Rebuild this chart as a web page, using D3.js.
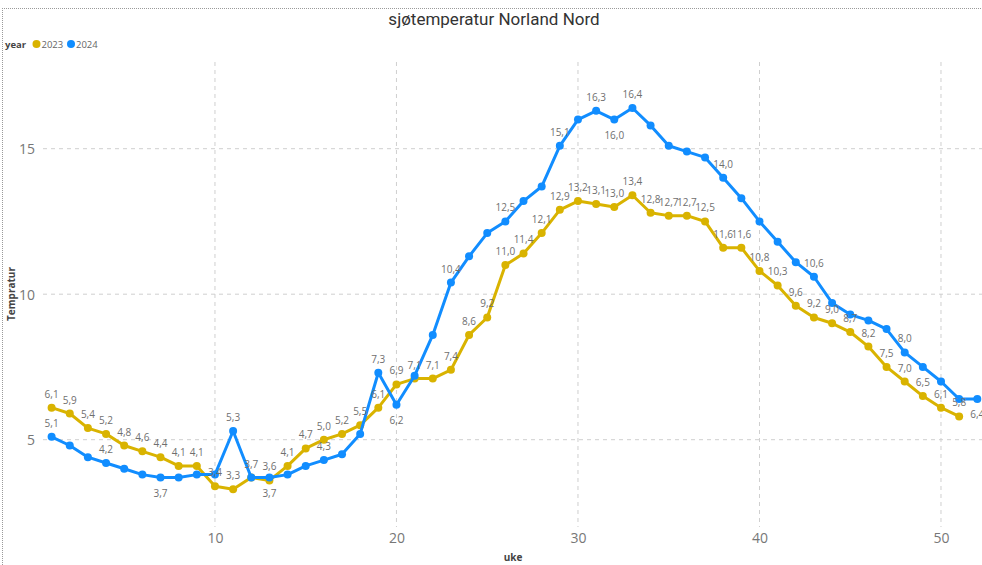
<!DOCTYPE html>
<html>
<head>
<meta charset="utf-8">
<script src="https://cdn.jsdelivr.net/npm/d3@7"></script>
<style>
  html, body { margin: 0; padding: 0; background: #fff; }
  svg { display: block; }
</style>
</head>
<body>
<svg id="chart" width="982" height="565"></svg>
<script>
// ---- data ----
const weeks = d3.range(1, 53);
const values2023 = [6.1, 5.9, 5.4, 5.2, 4.8, 4.6, 4.4, 4.1, 4.1, 3.4,
  3.3, 3.7, 3.6, 4.1, 4.7, 5.0, 5.2, 5.5, 6.1, 6.9,
  7.1, 7.1, 7.4, 8.6, 9.2, 11.0, 11.4, 12.1, 12.9, 13.2,
  13.1, 13.0, 13.4, 12.8, 12.7, 12.7, 12.5, 11.6, 11.6, 10.8,
  10.3, 9.6, 9.2, 9.0, 8.7, 8.2, 7.5, 7.0, 6.5, 6.1,
  5.8, null];
const values2024 = [5.1, 4.8, 4.4, 4.2, 4.0, 3.8, 3.7, 3.7, 3.8, 3.8,
  5.3, 3.7, 3.7, 3.8, 4.1, 4.3, 4.5, 5.2, 7.3, 6.2,
  7.2, 8.6, 10.4, 11.3, 12.1, 12.5, 13.2, 13.7, 15.1, 16.0,
  16.3, 16.0, 16.4, 15.8, 15.1, 14.9, 14.7, 14.0, 13.3, 12.5,
  11.8, 11.1, 10.6, 9.7, 9.3, 9.1, 8.8, 8.0, 7.5, 7.0,
  6.4, 6.4];
const seriesNames = ["2023", "2024"];
const seriesColors = ["#D9B300", "#118DFF"];
// weeks that carry a data label (2023: every week; 2024: a subset)
const labelWeeks2023 = d3.range(1, 52);
const labelWeeks2024 = [1, 4, 7, 11, 13, 16, 19, 20, 23, 26, 29, 31, 32, 33, 38, 43, 48, 52];
const labelBelow2024 = [7, 13, 20, 32, 52];
const xTicks = [10, 20, 30, 40, 50];
const yTicks = [5, 10, 15];
const titleText = "sjøtemperatur Norland Nord";
const xTitle = "uke";
const yTitle = "Tempratur";
const legendTitle = "year";

// ---- layout ----
const svg = d3.select("#chart");
const W = 982, H = 565;
const x = d3.scaleLinear().domain([1, 52]).range([51.6, 977.3]);
const y = d3.scaleLinear().domain([2, 18]).range([527, 61.4]);
const fmt = v => d3.format(".1f")(v).replace(".", ",");
const labelFont = "'Open Sans', 'Noto Sans', sans-serif";

// frame (dotted)
svg.append("line").attr("x1", 2).attr("x2", W).attr("y1", 8.5).attr("y2", 8.5)
  .attr("stroke", "#9a9a9a").attr("stroke-width", 1).attr("stroke-dasharray", "1,1");
svg.append("line").attr("x1", 2.5).attr("x2", 2.5).attr("y1", 8).attr("y2", H)
  .attr("stroke", "#9a9a9a").attr("stroke-width", 1).attr("stroke-dasharray", "1,1");

// title
svg.append("text").attr("x", 494).attr("y", 25).attr("text-anchor", "middle")
  .attr("font-family", "'Liberation Sans Narrow', 'Roboto', sans-serif")
  .attr("font-size", 17).attr("fill", "#333").text(titleText);

// legend
const lg = svg.append("g").attr("font-family", labelFont).attr("font-size", 9.5);
lg.append("text").attr("x", 5).attr("y", 47.5).attr("font-weight", "bold").attr("fill", "#444").text(legendTitle);
const legendX = [36.5, 71];
seriesNames.forEach((n, i) => {
  lg.append("circle").attr("cx", legendX[i]).attr("cy", 44).attr("r", 4).attr("fill", seriesColors[i]);
  lg.append("text").attr("x", legendX[i] + 5).attr("y", 47.5).attr("fill", "#666").text(n);
});

// gridlines
const grid = svg.append("g");
grid.selectAll("line.h").data(yTicks).join("line")
  .attr("x1", 43).attr("x2", W).attr("y1", d => y(d)).attr("y2", d => y(d))
  .attr("stroke", "#cfcfcf").attr("stroke-width", 1).attr("stroke-dasharray", "4,4");
grid.selectAll("line.v").data(xTicks).join("line")
  .attr("x1", d => x(d)).attr("x2", d => x(d)).attr("y1", 62).attr("y2", 527)
  .attr("stroke", "#cfcfcf").attr("stroke-width", 1).attr("stroke-dasharray", "4,4");

// axes (labels only)
const yAxis = svg.append("g").attr("transform", "translate(35,0)")
  .call(d3.axisLeft(y).tickValues(yTicks).tickSize(0).tickPadding(0).tickFormat(d3.format("d")));
yAxis.select(".domain").remove();
yAxis.selectAll("text").attr("font-family", labelFont).attr("font-size", 14).attr("fill", "#777").attr("dy", "0.35em");

const xAxis = svg.append("g").attr("transform", "translate(0,529)")
  .call(d3.axisBottom(x).tickValues(xTicks).tickSize(0).tickPadding(4).tickFormat(d3.format("d")));
xAxis.select(".domain").remove();
xAxis.selectAll("text").attr("font-family", labelFont).attr("font-size", 14).attr("fill", "#777");

svg.append("text").attr("x", 513).attr("y", 561).attr("text-anchor", "middle")
  .attr("font-family", labelFont).attr("font-size", 10).attr("font-weight", "bold").attr("fill", "#444").text(xTitle);
svg.append("text").attr("transform", "translate(15,294) rotate(-90)").attr("text-anchor", "middle")
  .attr("font-family", labelFont).attr("font-size", 10).attr("font-weight", "bold").attr("fill", "#444").text(yTitle);

// series
const allSeries = [values2023, values2024];
const line = d3.line().defined(d => d.v != null).x(d => x(d.w)).y(d => y(d.v));
allSeries.forEach((vals, i) => {
  const pts = weeks.map((w, k) => ({ w, v: vals[k] })).filter(d => d.v != null);
  const g = svg.append("g");
  g.append("path").datum(pts).attr("d", line).attr("fill", "none")
    .attr("stroke", seriesColors[i]).attr("stroke-width", 3).attr("stroke-linejoin", "round");
  g.selectAll("circle").data(pts).join("circle")
    .attr("cx", d => x(d.w)).attr("cy", d => y(d.v)).attr("r", 4).attr("fill", seriesColors[i]);
});

// data labels
const labG = svg.append("g").attr("font-family", labelFont).attr("font-size", 10).attr("fill", "#6f6f6f")
  .attr("text-anchor", "middle");
labelWeeks2023.forEach(w => {
  const v = values2023[w - 1];
  if (v == null) return;
  labG.append("text").attr("x", x(w)).attr("y", y(v) - 10).text(fmt(v));
});
labelWeeks2024.forEach(w => {
  const v = values2024[w - 1];
  const below = labelBelow2024.includes(w);
  labG.append("text").attr("x", x(w)).attr("y", below ? y(v) + 19 : y(v) - 10).text(fmt(v));
});
</script>
</body>
</html>
